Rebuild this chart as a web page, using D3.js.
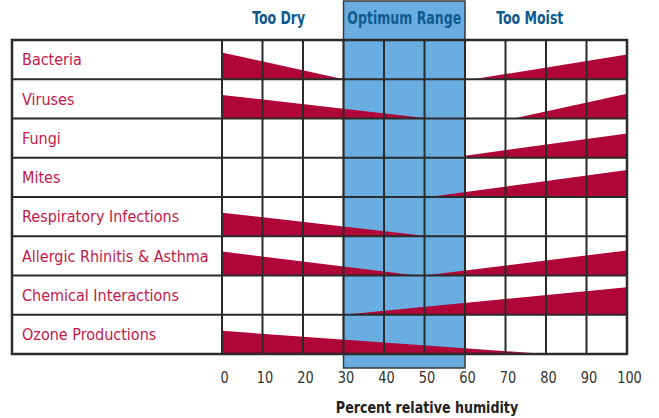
<!DOCTYPE html>
<html>
<head>
<meta charset="utf-8">
<script src="https://cdnjs.cloudflare.com/ajax/libs/d3/7.8.5/d3.min.js"></script>
<style>
  body { margin: 0; background: #fff; }
  text { font-family: "Liberation Sans Narrow", "DejaVu Sans Condensed", "Roboto Condensed", sans-serif; }
</style>
</head>
<body>
<div id="svgContainer"></div>
<script>
var width = 659;
var height = 418;

// rows of the table
var categories = ["Bacteria", "Viruses", "Fungi", "Mites", "Respiratory Infections",
  "Allergic Rhinitis & Asthma", "Chemical Interactions", "Ozone Productions"];

// each row: list of wedges, each wedge = [[humidity, level], [humidity, level]]
// level 0..1 = share of the row height
var riskBands = [
  [[[0, 0.68], [30, 0]], [[62, 0], [100, 0.63]]],
  [[[0, 0.6], [51, 0]], [[72, 0], [100, 0.63]]],
  [[[60, 0.05], [100, 0.62]]],
  [[[51, 0], [100, 0.69]]],
  [[[0, 0.6], [51, 0]]],
  [[[0, 0.61], [48, 0]], [[50, 0], [100, 0.64]]],
  [[[30, 0], [100, 0.7]]],
  [[[0, 0.59], [80, 0]]]
];

var humidityTicks = [0, 10, 20, 30, 40, 50, 60, 70, 80, 90, 100];
var optimumRange = [30, 60];
var zoneLabels = [
  { text: "Too Dry", at: 14 },
  { text: "Optimum Range", at: 45 },
  { text: "Too Moist", at: 76 }
];

var tableLeft = 12, gridLeft = 222, gridRight = 627, tableTop = 40, tableBottom = 354;

var svg = d3.select("#svgContainer").append("svg")
  .attr("width", width)
  .attr("height", height);

var x = d3.scaleLinear().domain([0, 100]).range([gridLeft, gridRight]);
var row = d3.scaleBand().domain(categories).range([tableTop, tableBottom]);
var level = d3.scaleLinear().domain([0, 1]).range([0, row.bandwidth()]);

var lineColor = "#2b2b2b";
var wedgeColor = "#b00538";
var headColor = "#0e5a8f";

// optimum band
svg.append("rect")
  .attr("x", x(optimumRange[0]))
  .attr("y", 1)
  .attr("width", x(optimumRange[1]) - x(optimumRange[0]))
  .attr("height", 367)
  .attr("fill", "#6aade0")
  .attr("stroke", "#3a3a3a")
  .attr("stroke-width", 1.5);

// wedges
categories.forEach(function(cat, i) {
  var bottom = row(cat) + row.bandwidth();
  riskBands[i].forEach(function(w) {
    var pts = [
      [x(w[0][0]), bottom],
      [x(w[0][0]), bottom - level(w[0][1])],
      [x(w[1][0]), bottom - level(w[1][1])],
      [x(w[1][0]), bottom]
    ];
    svg.append("polygon")
      .attr("points", pts.map(function(p) { return p.join(","); }).join(" "))
      .attr("fill", wedgeColor);
  });
});

// grid
var grid = svg.append("g").attr("stroke", lineColor).attr("stroke-width", 2);
humidityTicks.forEach(function(t) {
  grid.append("line")
    .attr("x1", x(t)).attr("x2", x(t))
    .attr("y1", tableTop).attr("y2", tableBottom);
});
categories.forEach(function(cat) {
  grid.append("line")
    .attr("x1", tableLeft).attr("x2", gridRight)
    .attr("y1", row(cat)).attr("y2", row(cat));
});
grid.append("rect")
  .attr("x", tableLeft).attr("y", tableTop)
  .attr("width", gridRight - tableLeft).attr("height", tableBottom - tableTop)
  .attr("fill", "none")
  .attr("stroke-width", 2.5);

// row labels
svg.selectAll(".rowLabel")
  .data(categories)
  .enter().append("text")
  .attr("x", 22)
  .attr("y", function(d) { return row(d) + row.bandwidth() / 2; })
  .attr("dy", "0.36em")
  .attr("fill", "#c3184a")
  .attr("font-size", 16)
  .text(function(d) { return d; });

// zone headings (squeezed to look like a condensed face)
svg.selectAll(".zone")
  .data(zoneLabels)
  .enter().append("text")
  .attr("transform", function(d) { return "translate(" + x(d.at) + ",24) scale(0.82,1)"; })
  .attr("text-anchor", "middle")
  .attr("fill", headColor)
  .attr("font-weight", "bold")
  .attr("font-size", 17)
  .text(function(d) { return d.text; });

// x axis
var axis = d3.axisBottom(x).tickValues(humidityTicks).tickSize(0).tickPadding(0);
var axisG = svg.append("g").attr("transform", "translate(0,372)").call(axis);
axisG.select(".domain").remove();
axisG.selectAll("text")
  .attr("font-size", 16)
  .attr("fill", "#333")
  .attr("font-family", null)
  .attr("dy", "0.71em")
  .attr("transform", "translate(2,0) scale(0.9,1)");

svg.append("text")
  .attr("transform", "translate(427,413) scale(0.88,1)")
  .attr("text-anchor", "middle")
  .attr("font-weight", "bold")
  .attr("font-size", 16)
  .attr("fill", "#222")
  .text("Percent relative humidity");
</script>
</body>
</html>
